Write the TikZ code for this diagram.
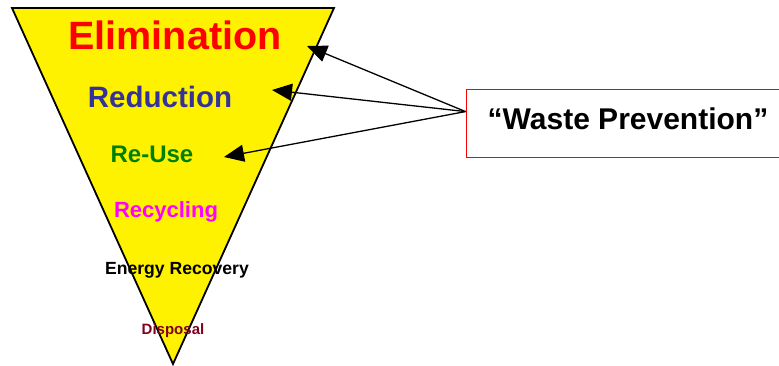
\documentclass[tikz,border=0pt]{standalone}
\usepackage{fontspec}
\setmainfont{Liberation Sans}
\usetikzlibrary{arrows.meta,calc}
\definecolor{elimred}{RGB}{255,0,0}
\definecolor{redblue}{RGB}{51,51,153}
\definecolor{reusegreen}{RGB}{0,128,0}
\definecolor{recyclemag}{RGB}{255,0,255}
\definecolor{dispred}{RGB}{128,0,32}
\begin{document}
\begin{tikzpicture}[x=1pt,y=-1pt,
  level/.style={font=\bfseries, inner sep=0pt, anchor=center},
  pointer/.style={line width=1.3pt, -{Triangle[length=20pt,width=17pt]}}]
\useasboundingbox (0,0) rectangle (779,366);
\clip (0,0) rectangle (779,366);

% inverted pyramid
\draw[line width=1.8pt, fill=yellow, line join=miter]
  (12,8) -- (334,8) -- (173,364) -- cycle;

% hierarchy levels
\node[level, text=elimred, font=\fontsize{39.5}{42}\selectfont\bfseries] (elim) at (175,35) {Elimination};
\node[level, text=redblue, font=\fontsize{29.5}{32}\selectfont\bfseries] (red) at (160,97) {Reduction};
\node[level, text=reusegreen, font=\fontsize{24}{26}\selectfont\bfseries] (reuse) at (152,154) {Re-Use};
\node[level, text=recyclemag, font=\fontsize{22}{24}\selectfont\bfseries] (recyc) at (166,212) {Recycling};
\node[level, text=black, font=\fontsize{17.6}{19}\selectfont\bfseries] (energy) at (177,270) {Energy Recovery};
\node[level, text=dispred, font=\fontsize{15}{17}\selectfont\bfseries] (disp) at (173,331) {Disposal};

% prevention box
\node[draw=red, line width=1pt, minimum width=324pt, minimum height=68pt, inner sep=0pt] (wp) at (628,124) {};
\node[level, font=\fontsize{30}{32}\selectfont\bfseries] (wptext) at (628,119) {“Waste Prevention”};

% arrows from the box to the prevention levels
\coordinate (src) at ($(wp.north west)!0.32!(wp.south west)$);
\coordinate (toelim) at (307,46);
\coordinate (tored) at (272,90);
\coordinate (toreuse) at (224,157);
\draw[pointer] (src) -- (toelim);
\draw[pointer] (src) -- (tored);
\draw[pointer] (src) -- (toreuse);
\end{tikzpicture}
\end{document}
